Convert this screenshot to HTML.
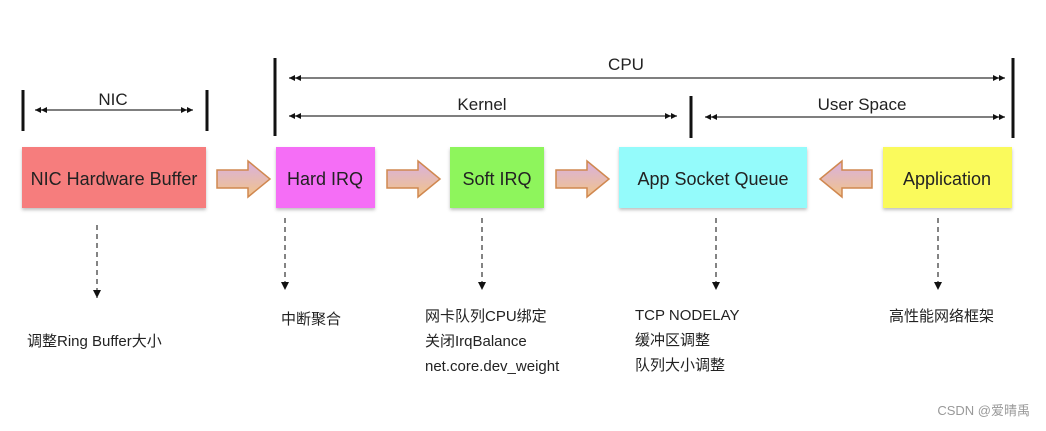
<!DOCTYPE html>
<html><head><meta charset="utf-8"><style>
body{margin:0;background:#fff;}
svg text{font-family:"Liberation Sans","Noto Sans CJK SC",sans-serif;fill:#222;}
</style></head><body>
<svg width="1046" height="426" viewBox="0 0 1046 426" xmlns="http://www.w3.org/2000/svg">
<defs>
<marker id="dh" viewBox="0 0 12 6" refX="12" refY="3" markerWidth="12" markerHeight="6" orient="auto-start-reverse" markerUnits="userSpaceOnUse">
<path d="M0,0 L6,3 L0,6 Z M6,0 L12,3 L6,6 Z" fill="#111"/></marker>
<marker id="ah" viewBox="0 0 8 8" refX="8" refY="4" markerWidth="8" markerHeight="8" orient="auto" markerUnits="userSpaceOnUse">
<path d="M0,0 L8,4 L0,8 Z" fill="#111"/></marker>
<linearGradient id="ag" x1="0" y1="0" x2="0" y2="1"><stop offset="0" stop-color="#d8b0e0"/><stop offset="1" stop-color="#f2c488"/></linearGradient>
<filter id="sh"><feDropShadow dx="0" dy="2" stdDeviation="1.5" flood-color="#000" flood-opacity="0.25"/></filter>
</defs>
<g stroke="#111" stroke-width="3">
<line x1="23" y1="90" x2="23" y2="131"/><line x1="207" y1="90" x2="207" y2="131"/>
<line x1="275" y1="58" x2="275" y2="136"/><line x1="691" y1="96" x2="691" y2="138"/>
<line x1="1013" y1="58" x2="1013" y2="138"/>
</g>
<g stroke="#333" stroke-width="1.2">
<line x1="35" y1="110" x2="193" y2="110" marker-start="url(#dh)" marker-end="url(#dh)"/>
<line x1="289" y1="78" x2="1005" y2="78" marker-start="url(#dh)" marker-end="url(#dh)"/>
<line x1="289" y1="116" x2="677" y2="116" marker-start="url(#dh)" marker-end="url(#dh)"/>
<line x1="705" y1="117" x2="1005" y2="117" marker-start="url(#dh)" marker-end="url(#dh)"/>
</g>
<g font-size="17" text-anchor="middle">
<text x="113" y="105">NIC</text><text x="626" y="70">CPU</text>
<text x="482" y="110">Kernel</text><text x="862" y="110">User Space</text>
</g>
<g filter="url(#sh)">
<rect x="22" y="147" width="184" height="61" fill="#f67d7d"/>
<rect x="276" y="147" width="99" height="61" fill="#f56ef6"/>
<rect x="450" y="147" width="94" height="61" fill="#8ef55c"/>
<rect x="619" y="147" width="188" height="61" fill="#94fbfb"/>
<rect x="883" y="147" width="129" height="61" fill="#fafa5c"/>
</g>
<g font-size="18" text-anchor="middle">
<text x="114" y="185">NIC Hardware Buffer</text>
<text x="325" y="185">Hard IRQ</text>
<text x="497" y="185">Soft IRQ</text>
<text x="713" y="185">App Socket Queue</text>
<text x="947" y="185">Application</text>
</g>
<g fill="url(#ag)" stroke="#d08850" stroke-width="1.5">
<path d="M217,170 H248 V161 L270,179 L248,197 V188 H217 Z"/>
<path d="M387,170 H418 V161 L440,179 L418,197 V188 H387 Z"/>
<path d="M556,170 H587 V161 L609,179 L587,197 V188 H556 Z"/>
<path d="M872,170 H842 V161 L820,179 L842,197 V188 H872 Z"/>
</g>
<g stroke="#333" stroke-width="1.2" stroke-dasharray="5,4">
<line x1="97" y1="225" x2="97" y2="298" marker-end="url(#ah)"/>
<line x1="285" y1="218" x2="285" y2="290" marker-end="url(#ah)"/>
<line x1="482" y1="218" x2="482" y2="290" marker-end="url(#ah)"/>
<line x1="716" y1="218" x2="716" y2="290" marker-end="url(#ah)"/>
<line x1="938" y1="218" x2="938" y2="290" marker-end="url(#ah)"/>
</g>
<g font-size="15">
<text x="27" y="346">调整Ring Buffer大小</text>
<text x="281" y="324">中断聚合</text>
<text x="425" y="321">网卡队列CPU绑定</text>
<text x="425" y="346">关闭IrqBalance</text>
<text x="425" y="371">net.core.dev_weight</text>
<text x="635" y="320">TCP NODELAY</text>
<text x="635" y="345">缓冲区调整</text>
<text x="635" y="370">队列大小调整</text>
<text x="889" y="321">高性能网络框架</text>
</g>
<text x="1030" y="415" font-size="13" text-anchor="end" style="fill:#999">CSDN @爱晴禹</text>
</svg>
</body></html>
